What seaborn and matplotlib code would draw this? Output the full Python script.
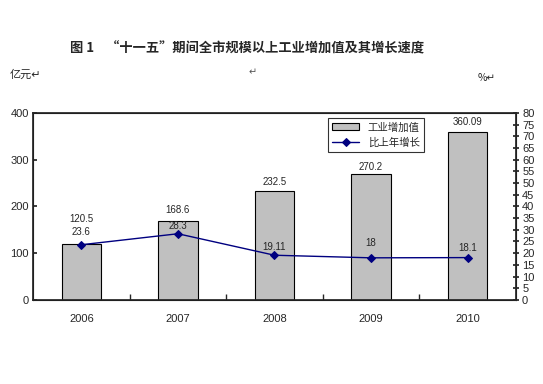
import numpy as np
import pandas as pd
import seaborn as sns
import matplotlib.pyplot as plt
from matplotlib.ticker import MultipleLocator, FixedLocator

years = ['2006', '2007', '2008', '2009', '2010']
value_added = [120.5, 168.6, 232.5, 270.2, 360.09]
growth = [23.6, 28.3, 19.11, 18, 18.1]
value_labels = ['120.5', '168.6', '232.5', '270.2', '360.09']
growth_labels = ['23.6', '28.3', '19.11', '18', '18.1']

df = pd.DataFrame({'year': years, 'value': value_added, 'growth': growth})

sns.set_theme(style='white')
plt.rcParams['font.family'] = ['Liberation Sans', 'Noto Sans CJK SC', 'DejaVu Sans']
cjk = ['Noto Sans CJK SC', 'DejaVu Sans']

fig = plt.figure(figsize=(5.43, 3.84), dpi=100)
ax = fig.add_axes([0.061, 0.219, 0.889, 0.487])

sns.barplot(data=df, x='year', y='value', color='#C0C0C0', edgecolor='black',
            linewidth=0.8, width=0.41, saturation=1, ax=ax, label='工业增加值')
if ax.get_legend() is not None:
    ax.get_legend().remove()
ax.set_ylim(0, 400)
ax.set_xlim(-0.5, 4.5)
ax.yaxis.set_major_locator(MultipleLocator(100))
ax.set_xlabel('')
ax.set_ylabel('')
ax.tick_params(axis='x', length=0, pad=10, labelsize=8)
ax.tick_params(axis='y', direction='in', length=3, labelsize=8, pad=3, left=True)
ax.xaxis.set_minor_locator(FixedLocator([0.5, 1.5, 2.5, 3.5]))
ax.tick_params(axis='x', which='minor', direction='in', length=4, bottom=True)
for s in ax.spines.values():
    s.set_color('black')
    s.set_linewidth(0.8)

ax2 = ax.twinx()
sns.pointplot(data=df, x='year', y='growth', color='#000080', markers='D',
              markersize=4, linewidth=1, ax=ax2, label='比上年增长')
ax2.set_ylim(0, 80)
ax2.yaxis.set_major_locator(MultipleLocator(5))
ax2.set_ylabel('')
ax2.tick_params(axis='y', direction='inout', length=5, labelsize=8, pad=2, right=True)

# label offsets in pixels above the mark
bar_off = [20, 6, 4, 2, 5]
for i, (v, t) in enumerate(zip(value_added, value_labels)):
    ax.annotate(t, (i, v), xytext=(0, bar_off[i] * 0.72), textcoords='offset points',
                ha='center', va='bottom', fontsize=7)
line_off = [8, 3, 3, 10, 5]
for i, (g, t) in enumerate(zip(growth, growth_labels)):
    ax2.annotate(t, (i, g), xytext=(0, line_off[i] * 0.72), textcoords='offset points',
                 ha='center', va='bottom', fontsize=7)

h1, l1 = ax.get_legend_handles_labels()
h2, l2 = ax2.get_legend_handles_labels()
leg = ax2.legend(h1 + h2, l1 + l2, loc='upper left', bbox_to_anchor=(0.611, 0.973),
                 borderaxespad=0, frameon=True, fancybox=False, edgecolor='black',
                 prop={'family': cjk, 'size': 7.5}, handlelength=2.6, borderpad=0.4,
                 labelspacing=0.5)
leg.get_frame().set_linewidth(0.8)

fig.text(0.455, 0.875, '图 1    “十一五”期间全市规模以上工业增加值及其增长速度',
         ha='center', va='center', fontsize=9.5, fontweight='bold', family=cjk)
fig.text(0.018, 0.805, '亿元↵', ha='left', va='center', fontsize=8, family=cjk)
fig.text(0.466, 0.812, '↵', ha='center', va='center', fontsize=7, family=cjk, color='#555555')
fig.text(0.880, 0.797, '%↵', ha='left', va='center', fontsize=7.5, family=cjk)

fig.savefig('out.png', dpi=100)
